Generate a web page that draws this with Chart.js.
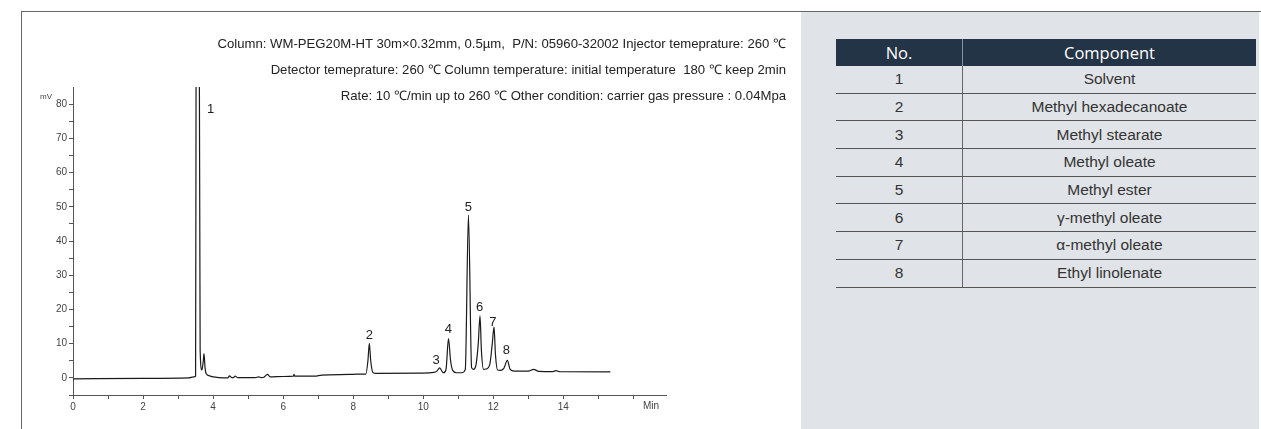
<!DOCTYPE html>
<html>
<head>
<meta charset="utf-8">
<script src="https://cdn.jsdelivr.net/npm/chart.js@4.4.1/dist/chart.umd.min.js"></script>
<style>
  body { margin: 0; width: 1261px; height: 429px; overflow: hidden; background: #fff; position: relative; }
  #frameTop { position: absolute; left: 21px; top: 11px; width: 1240px; height: 1px; background: #666; }
  #frameLeft { position: absolute; left: 21px; top: 11px; width: 1px; height: 418px; background: #666; }
  #panel { position: absolute; left: 801px; top: 12px; width: 458px; height: 417px; background: #e0e3e7; }
  #chartBox { position: absolute; left: 0; top: 0; width: 800px; height: 429px; }
  #notes { position: absolute; left: 0; top: 31px; width: 786px; text-align: right;
    font-family: "Liberation Sans", Arial, sans-serif;
    font-size: 13.15px; line-height: 26px; color: #222; }
  #compTable { position: absolute; left: 836px; top: 39px; width: 420px; border-collapse: collapse; table-layout: fixed;
    font-family: "Liberation Sans", Arial, sans-serif; color: #333; }
  #compTable th { background: #243447; color: #fff; font-family: "Open Sans", sans-serif; font-weight: 400;
    font-size: 16.5px; height: 27px; padding: 0; }
  #compTable th:first-child { border-right: 1px solid #8a929c; width: 126px; }
  #compTable td { height: 26.7px; padding: 0; text-align: center; font-size: 15.5px; border-bottom: 1.5px solid #555; }
  #compTable td:first-child { border-right: 1px solid #666; }
</style>
</head>
<body>
<div id="frameTop"></div>
<div id="frameLeft"></div>
<div id="panel"></div>
<div id="chartBox"><canvas id="gcChart"></canvas></div>
<div id="notes">
  <div>Column: WM-PEG20M-HT 30m×0.32mm, 0.5µm,&nbsp; P/N: 05960-32002 Injector temeprature: 260 ℃</div>
  <div>Detector temeprature: 260 ℃ Column temperature: initial temperature&nbsp; 180 ℃ keep 2min</div>
  <div>Rate: 10 ℃/min up to 260 ℃ Other condition: carrier gas pressure : 0.04Mpa</div>
</div>
<table id="compTable"></table>
<script>
// retention time (min) and detector signal (mV)
const times  = [0, 2.0, 3.3, 3.45, 3.50, 3.515, 3.56, 3.605, 3.63, 3.68, 3.72, 3.74, 3.77, 3.80, 3.90, 4.01,
  4.30, 4.42, 4.47, 4.53, 4.58, 4.63, 4.70, 5.20, 5.30, 5.38, 5.45, 5.55, 5.63, 6.00, 6.29, 6.31, 6.33,
  6.90, 7.10, 7.90, 8.10, 8.36, 8.42, 8.46, 8.50, 8.56, 8.65, 9.90, 10.30, 10.38, 10.47, 10.55, 10.58,
  10.65, 10.72, 10.78, 10.84, 10.95, 11.10, 11.20, 11.29, 11.38, 11.43, 11.50, 11.57, 11.62, 11.66, 11.72,
  11.80, 11.90, 11.97, 12.02, 12.06, 12.12, 12.20, 12.30, 12.40, 12.48, 12.60, 13.00, 13.15, 13.30, 13.70,
  13.79, 13.90, 15.34];
const signal = [-0.3, -0.15, 0, 0.3, 0.5, 100, 400, 100, 8, 2.3, 5, 7.1, 3, 1.3, 0.6, 0.3,
  0.0, 0.0, 0.6, 0.1, 0.1, 0.5, 0.1, 0.1, 0.3, 0.1, 0.2, 1.0, 0.3, 0.4, 0.5, 1.0, 0.5,
  0.5, 0.8, 1.0, 1.1, 1.1, 5, 10.1, 5, 1.6, 1.3, 1.4, 1.6, 1.9, 2.9, 1.7, 1.5,
  2.5, 11.5, 5, 2.2, 1.5, 1.5, 2.5, 47.6, 3, 2.5, 3.5, 10, 18.1, 8, 2.5,
  2.6, 4, 10, 14.9, 7, 2.3, 2.2, 2.8, 5.1, 2.5, 2.0, 2.0, 2.5, 1.9, 1.85,
  2.1, 1.8, 1.75];

// peak numbers and where their labels sit
const peakNumbers      = ['1', '2', '3', '4', '5', '6', '7', '8'];
const peakLabelTimes   = [3.93, 8.46, 10.37, 10.72, 11.29, 11.61, 11.99, 12.37];
const peakLabelValues  = [78.5, 12.5, 5.0, 14.3, 49.9, 20.5, 16.3, 7.9];
const componentNames   = ['Solvent', 'Methyl hexadecanoate', 'Methyl stearate', 'Methyl oleate',
  'Methyl ester', 'γ-methyl oleate', 'α-methyl oleate', 'Ethyl linolenate'];

// axis ticks
const xTickMarks  = [0, 1, 2, 3, 4, 5, 6, 7, 8, 9, 10, 11, 12, 13, 14, 15, 16];
const xTickLabels = [0, 2, 4, 6, 8, 10, 12, 14];
const yTickMarks  = [-5, 0, 5, 10, 15, 20, 25, 30, 35, 40, 45, 50, 55, 60, 65, 70, 75, 80];
const yTickLabels = [0, 10, 20, 30, 40, 50, 60, 70, 80];

// component table
const table = document.getElementById('compTable');
let html = '<tr><th>No.</th><th>Component</th></tr>';
peakNumbers.forEach((n, i) => {
  html += '<tr><td>' + n + '</td><td>' + componentNames[i] + '</td></tr>';
});
table.innerHTML = html;

// peak numbers + axis units
const peakLabels = {
  id: 'peakLabels',
  afterDatasetsDraw(chart) {
    const { ctx, scales: { x, y } } = chart;
    ctx.save();
    ctx.fillStyle = '#222';
    ctx.textAlign = 'center';
    ctx.textBaseline = 'middle';
    ctx.font = '13px "Liberation Sans", Arial, sans-serif';
    peakNumbers.forEach((n, i) => {
      ctx.fillText(n, x.getPixelForValue(peakLabelTimes[i]), y.getPixelForValue(peakLabelValues[i]));
    });
    ctx.fillStyle = '#444';
    ctx.font = '10px "Liberation Sans", Arial, sans-serif';
    ctx.fillText('Min', x.getPixelForValue(16.5), x.top + 11);
    ctx.font = '8px "Liberation Sans", Arial, sans-serif';
    ctx.fillText('mV', y.right - 27, y.getPixelForValue(80) - 7);
    ctx.restore();
  }
};

new Chart(document.getElementById('gcChart').getContext('2d'), {
  type: 'line',
  data: {
    datasets: [{
      data: times.map((t, i) => ({ x: t, y: signal[i] })),
      borderColor: '#1a1a1a',
      borderWidth: 1.2,
      pointRadius: 0,
      cubicInterpolationMode: 'monotone',
      fill: false
    }]
  },
  options: {
    responsive: true,
    maintainAspectRatio: false,
    animation: false,
    layout: { padding: { left: 21, right: 134, top: 87, bottom: 14 } },
    plugins: { legend: { display: false }, tooltip: { enabled: false } },
    scales: {
      x: {
        type: 'linear',
        min: 0,
        max: 16.93,
        afterFit: (s) => { s.height = 20; },
        afterBuildTicks: (s) => { s.ticks = xTickMarks.map(v => ({ value: v })); },
        ticks: {
          autoSkip: false, maxRotation: 0, padding: 2, color: '#444',
          font: { size: 10, family: '"Liberation Sans", Arial, sans-serif' },
          callback: (v) => xTickLabels.includes(v) ? String(v) : ''
        },
        grid: { drawOnChartArea: false, drawTicks: true, tickLength: 4, color: '#555' },
        border: { color: '#555', width: 1 }
      },
      y: {
        min: -5,
        max: 85,
        afterFit: (s) => { s.width = 52; },
        afterBuildTicks: (s) => { s.ticks = yTickMarks.map(v => ({ value: v })); },
        ticks: {
          autoSkip: false, padding: 2, color: '#444',
          font: { size: 10, family: '"Liberation Sans", Arial, sans-serif' },
          callback: (v) => yTickLabels.includes(v) ? String(v) : ''
        },
        grid: { drawOnChartArea: false, drawTicks: true, tickLength: 4, color: '#555' },
        border: { color: '#555', width: 1 }
      }
    }
  },
  plugins: [peakLabels]
});
</script>
</body>
</html>
